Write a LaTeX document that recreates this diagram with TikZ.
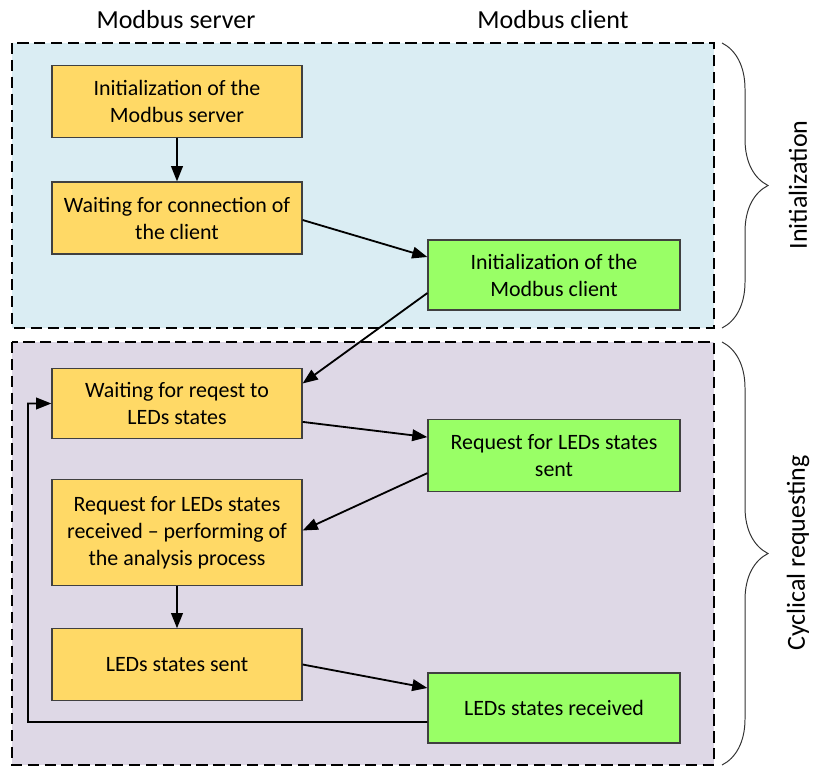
\documentclass[tikz,border=0pt]{standalone}
\usepackage{fontspec}
\setmainfont{Carlito}
\usetikzlibrary{arrows.meta,decorations.pathreplacing}
\definecolor{serverfill}{HTML}{FFD966}
\definecolor{clientfill}{HTML}{99FF66}
\definecolor{initfill}{HTML}{DAEDF3}
\definecolor{cyclefill}{HTML}{DED8E6}
\definecolor{boxline}{HTML}{404040}

\begin{document}
\begin{tikzpicture}[x=0.025cm,y=-0.025cm,
    server/.style ={rectangle, draw=boxline, fill=serverfill, line width=0.8pt, minimum width=6.25cm, align=center,
      font=\fontsize{15.6}{19.2}\selectfont},
    client/.style ={rectangle, draw=boxline, fill=clientfill, line width=0.8pt, minimum width=6.3cm, align=center,
      font=\fontsize{15.6}{19.2}\selectfont},
    region/.style ={draw=black, line width=1pt, dash pattern=on 8pt off 4pt},
    flow/.style ={line width=1.3pt, -{Triangle[length=0.38cm,width=0.29cm]}},
    phase/.style ={decorate, decoration={brace, amplitude=1.15cm}, line width=0.7pt, draw=black!80},
    header/.style ={font=\fontsize{18.5}{22}\selectfont}]
   \useasboundingbox (0,0) rectangle (813,767);
   \draw[region, fill=initfill] (12,43) rectangle (714,328);
   \draw[region, fill=cyclefill] (12,342) rectangle (714,765);
   \node[header] (hs) at (176,20) {Modbus server};
   \node[header] (hc) at (553,20) {Modbus client};
   \node[server, minimum height=1.78cm] (s1) at (177,101.5) {Initialization of the\\Modbus server};
   \node[server, minimum height=1.8cm] (s2) at (177,218) {Waiting for connection of\\the client};
   \node[server, minimum height=1.73cm] (s3) at (177,403.5) {Waiting for reqest to\\LEDs states};
   \node[server, minimum height=2.63cm] (s4) at (177,532.5) {Request for LEDs states\\received -- performing of\\the analysis process};
   \node[server, minimum height=1.78cm] (s5) at (177,664.5) {LEDs states sent};
   \node[client, minimum height=1.75cm] (c1) at (554,275) {Initialization of the\\Modbus client};
   \node[client, minimum height=1.78cm] (c2) at (554,455.5) {Request for LEDs states\\sent};
   \node[client, minimum height=1.75cm] (c3) at (554,708) {LEDs states received};
   \coordinate (back) at (28,722);
   \draw[flow] (s1) to (s2);
   \draw[flow] ([yshift=-0.05cm]s2.east) to ([yshift=0.45cm]c1.west);
   \draw[flow] ([yshift=-0.45cm]c1.west) to ([yshift=0.5cm]s3.east);
   \draw[flow] ([yshift=-0.46cm]s3.east) to ([yshift=0.46cm]c2.west);
   \draw[flow] ([yshift=-0.44cm]c2.west) to ([yshift=0.05cm]s4.east);
   \draw[flow] (s4) to (s5);
   \draw[flow] (s5.east) to ([yshift=0.5cm]c3.west);
   \draw[flow] ([yshift=-0.35cm]c3.west) -- (back) |- (s3.west);
   \draw[phase] (722,43) -- (722,328);
   \draw[phase] (722,342) -- (722,765);
   \node[header, rotate=90, inner sep=0pt] (init) at (798,185) {Initialization};
   \node[header, rotate=90, inner sep=0pt] (cyc) at (798,553) {Cyclical requesting};
 \end{tikzpicture}
\end{document}
